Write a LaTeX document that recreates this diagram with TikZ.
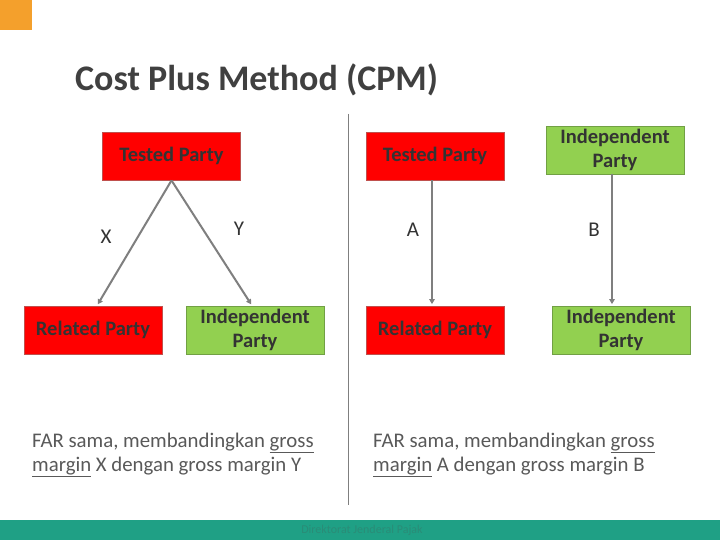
\documentclass[tikz,border=0pt]{standalone}
\usepackage{fontspec}
\setmainfont{Carlito}
\usetikzlibrary{arrows.meta}
\definecolor{redfill}{HTML}{FF0000}
\definecolor{redline}{HTML}{C0504D}
\definecolor{greenfill}{HTML}{92D050}
\definecolor{greenline}{HTML}{71A044}
\definecolor{arrowgray}{HTML}{7F7F7F}
\definecolor{txtdark}{HTML}{333333}
\definecolor{bodygray}{HTML}{595959}
\definecolor{titlegray}{HTML}{404040}
\definecolor{orangebox}{HTML}{F4A02C}
\definecolor{teal}{HTML}{1FA085}
\definecolor{footertxt}{HTML}{2A8C77}
\tikzset{
  partybox/.style={draw, line width=0.8pt, minimum width=138pt, minimum height=48pt,
    inner sep=0pt, align=center, font=\fontsize{20.5}{24}\selectfont\bfseries, text=txtdark},
  redbox/.style={partybox, fill=redfill, draw=redline},
  greenbox/.style={partybox, fill=greenfill, draw=greenline},
  conn/.style={draw=arrowgray, line width=2pt, -{Triangle[length=5pt,width=5.5pt]}, shorten >=1.5pt},
  lbl/.style={font=\fontsize{21}{24}\selectfont, text=txtdark},
  body/.style={anchor=north west, align=left, font=\fontsize{20.8}{24}\selectfont, text=bodygray, inner sep=0pt}
}
\begin{document}
\begin{tikzpicture}[x=1pt,y=-1pt]
\useasboundingbox (0,0) rectangle (720,540);
\fill[white] (0,0) rectangle (720,540);
\fill[orangebox] (0,0) rectangle (32,30);
\fill[teal] (0,520) rectangle (720,540);
\node[anchor=center, font=\fontsize{12}{13}\selectfont, text=footertxt] (foot) at (362,530) {Direktorat Jenderal Pajak};
\node[anchor=base west, inner sep=0pt, font=\fontsize{36}{40}\selectfont\bfseries, text=titlegray] (title) at (75,91) {Cost Plus Method (CPM)};
\coordinate (divtop) at (348,114);
\coordinate (divbot) at (348,505);
\draw[arrowgray, line width=0.9pt] (divtop) -- (divbot);
% left
\node[redbox] (tpL) at (171.5,156) {\raisebox{-2pt}{Tested Party}};
\node[redbox] (rpL) at (93,330) {\raisebox{-2pt}{Related Party}};
\node[greenbox] (ipL) at (255,330) {Independent\\Party};
\draw[conn] (tpL.south) -- ([xshift=4pt]rpL.north);
\draw[conn] (tpL.south) -- ([xshift=-3pt]ipL.north);
\node[lbl] (X) at (106,237) {X};
\node[lbl] (Y) at (239,229) {Y};
% right
\node[redbox] (tpR) at (435,156) {\raisebox{-2pt}{Tested Party}};
\node[redbox] (rpR) at (435,330) {\raisebox{-2pt}{Related Party}};
\node[greenbox] (ipRt) at (615,150) {Independent\\Party};
\node[greenbox] (ipRb) at (621,330) {Independent\\Party};
\draw[conn] ([xshift=-3pt]tpR.south) -- ([xshift=-3pt]rpR.north);
\draw[conn] ([xshift=-3pt]ipRt.south) -- ([xshift=-9pt]ipRb.north);
\node[lbl] (A) at (413,230) {A};
\node[lbl] (B) at (594,230) {B};
% texts
\node[body] (tL) at (32,433) {FAR sama, membandingkan \underline{gross}\\\underline{margin} X dengan gross margin Y};
\node[body] (tR) at (373,433) {FAR sama, membandingkan \underline{gross}\\\underline{margin} A dengan gross margin B};
\end{tikzpicture}
\end{document}
